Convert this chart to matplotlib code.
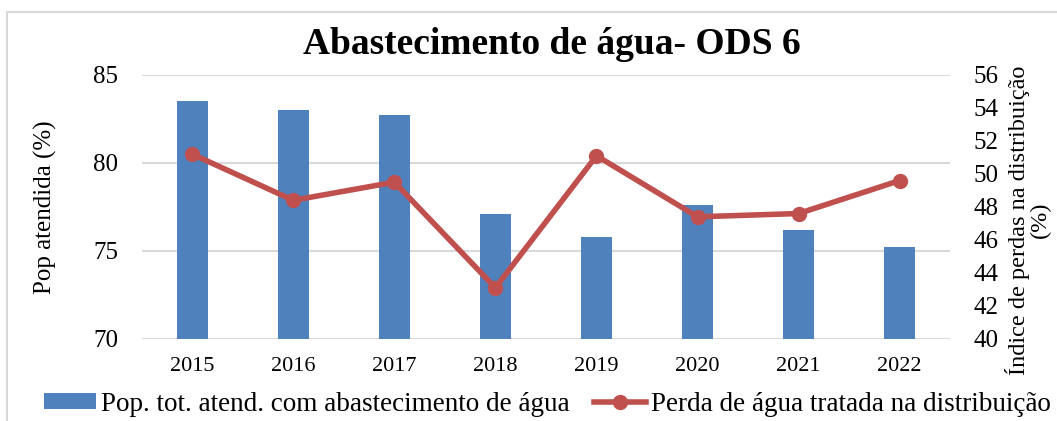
import matplotlib.pyplot as plt
from matplotlib.patches import Rectangle

plt.rcParams['font.family'] = ['Liberation Serif', 'DejaVu Serif']

# data
years = ["2015", "2016", "2017", "2018", "2019", "2020", "2021", "2022"]
pop_atendida = [83.5, 83.0, 82.7, 77.1, 75.8, 77.6, 76.2, 75.2]
perda_agua = [51.2, 48.4, 49.5, 43.1, 51.1, 47.4, 47.6, 49.6]

bar_color = "#4f81bd"
line_color = "#c0504d"

fig = plt.figure(figsize=(10.57, 4.21), dpi=100)
ax = fig.add_axes([0.134, 0.195, 0.765, 0.627])

x = range(len(years))
ax.bar(x, pop_atendida, width=0.31, color=bar_color, zorder=2,
       label="Pop. tot. atend. com abastecimento de água")
ax.set_ylim(70, 85)
ax.set_yticks([70, 75, 80, 85])
ax.set_xlim(-0.5, len(years) - 0.5)
ax.set_xticks(list(x))
ax.set_xticklabels(years)
ax.grid(axis="y", color="#d9d9d9", linewidth=1.5, zorder=0)
ax.tick_params(axis="both", length=0)
ax.tick_params(axis="y", labelsize=18, pad=17)
ax.tick_params(axis="x", labelsize=16, pad=13)
for s in ax.spines.values():
    s.set_visible(False)
ax.set_ylabel("Pop atendida (%)", fontsize=18)
ax.yaxis.set_label_coords(-0.105, 0.5)

ax2 = ax.twinx()
ax2.plot(x, perda_agua, color=line_color, linewidth=4, marker="o", markersize=10,
         zorder=3, label="Perda de água tratada na distribuição")
ax2.set_ylim(40, 56)
ax2.set_yticks(range(40, 57, 2))
ax2.tick_params(axis="y", length=0, labelsize=18, pad=17)
for s in ax2.spines.values():
    s.set_visible(False)
ax2.set_ylabel("Índice de perdas na distribuição\n(%)", fontsize=17.5,
               linespacing=0.95)
ax2.yaxis.set_label_coords(1.068, 0.45)

fig.suptitle("Abastecimento de água- ODS 6", fontsize=27, fontweight="bold",
             x=0.522, y=0.935)

h1, l1 = ax.get_legend_handles_labels()
h2, l2 = ax2.get_legend_handles_labels()
fig.legend(h1 + h2, l1 + l2, loc="center", bbox_to_anchor=(0.518, 0.04),
           ncol=2, frameon=False, fontsize=19.5, handlelength=1.9,
           handleheight=0.55, handletextpad=0.2, columnspacing=0.9)

fig.patches.append(Rectangle((0.007, -0.1), 1.1, 1.072, transform=fig.transFigure,
                             fill=False, edgecolor="#d9d9d9", linewidth=1.5))

fig.savefig("out.png", dpi=100)
